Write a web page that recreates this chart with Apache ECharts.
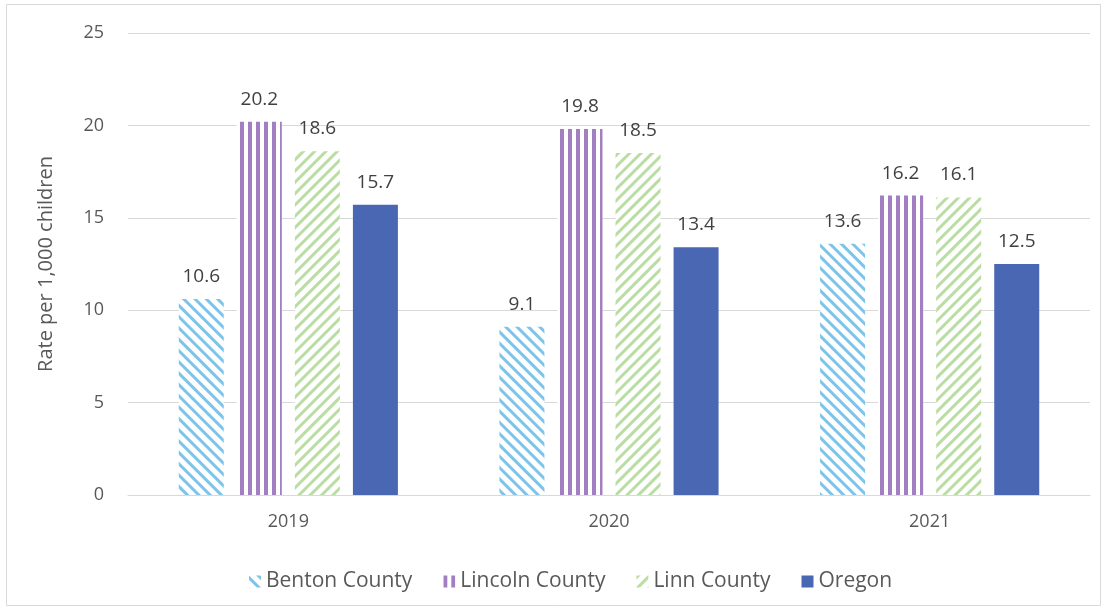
<!DOCTYPE html>
<html lang="en">
<head>
    <meta charset="UTF-8">
    <title>Rate per 1,000 children</title>
    <script src="https://cdn.jsdelivr.net/npm/echarts@6/dist/echarts.min.js"></script>
    <style>
        body { margin: 0; background: #fff; }
    </style>
</head>
<body>
<div id="my" style="width: 1109px;height: 615px;"></div>
<script>
    // data
    var years = ['2019', '2020', '2021']
    var benton = [10.6, 9.1, 13.6]
    var lincoln = [20.2, 19.8, 16.2]
    var linn = [18.6, 18.5, 16.1]
    var oregon = [15.7, 13.4, 12.5]

    var font = 'Open Sans'
    var label = {
        show: true,
        position: 'top',
        distance: 13,
        color: '#404040',
        fontSize: 19,
        fontFamily: font
    }

    var mCharts = echarts.init(document.getElementById('my'))
    var option = {
        animation: false,
        graphic: [{
            type: 'rect',
            shape: { x: 6.5, y: 4.5, width: 1094, height: 601 },
            style: { fill: 'none', stroke: '#d9d9d9', lineWidth: 1 },
            silent: true
        }],
        grid: { left: 128, right: 19, top: 33, bottom: 120 },
        legend: {
            bottom: 18,
            left: 244,
            itemWidth: 12,
            itemHeight: 12,
            itemGap: 31,
            icon: 'rect',
            textStyle: { color: '#595959', fontSize: 21, fontFamily: font }
        },
        xAxis: {
            type: 'category',
            data: years,
            axisLine: { lineStyle: { color: '#d9d9d9' } },
            axisTick: { show: false },
            axisLabel: { color: '#595959', fontSize: 18, fontFamily: font, margin: 18 }
        },
        yAxis: {
            type: 'value',
            min: 0,
            max: 25,
            interval: 5,
            name: 'Rate per 1,000 children',
            nameLocation: 'middle',
            nameGap: 72,
            nameTextStyle: { color: '#595959', fontSize: 20, fontFamily: font },
            axisLine: { show: false },
            axisTick: { show: false },
            axisLabel: { color: '#595959', fontSize: 18, fontFamily: font, margin: 24 },
            splitLine: { lineStyle: { color: '#d9d9d9' } }
        },
        series: [
            {
                name: 'Benton County',
                type: 'bar',
                data: benton,
                barWidth: 45,
                barGap: '29%',
                label: label,
                itemStyle: {
                    color: '#ffffff',
                    decal: {
                        symbol: 'rect',
                        symbolSize: 1,
                        color: '#7cc4ea',
                        dashArrayX: [1, 0],
                        dashArrayY: [3, 5],
                        rotation: Math.PI / 4
                    }
                }
            },
            {
                name: 'Lincoln County',
                type: 'bar',
                data: lincoln,
                barWidth: 45,
                barGap: '29%',
                label: label,
                itemStyle: {
                    color: '#ffffff',
                    decal: {
                        symbol: 'rect',
                        symbolSize: 1,
                        color: '#a17fc0',
                        dashArrayX: [4, 4],
                        dashArrayY: [1, 0],
                        rotation: 0
                    }
                }
            },
            {
                name: 'Linn County',
                type: 'bar',
                data: linn,
                barWidth: 45,
                barGap: '29%',
                label: label,
                itemStyle: {
                    color: '#ffffff',
                    decal: {
                        symbol: 'rect',
                        symbolSize: 1,
                        color: '#badda3',
                        dashArrayX: [1, 0],
                        dashArrayY: [3, 5],
                        rotation: -Math.PI / 4
                    }
                }
            },
            {
                name: 'Oregon',
                type: 'bar',
                data: oregon,
                barWidth: 45,
                barGap: '29%',
                label: label,
                itemStyle: { color: '#4a67b4' }
            }
        ]
    }
    mCharts.setOption(option)
</script>
</body>
</html>
